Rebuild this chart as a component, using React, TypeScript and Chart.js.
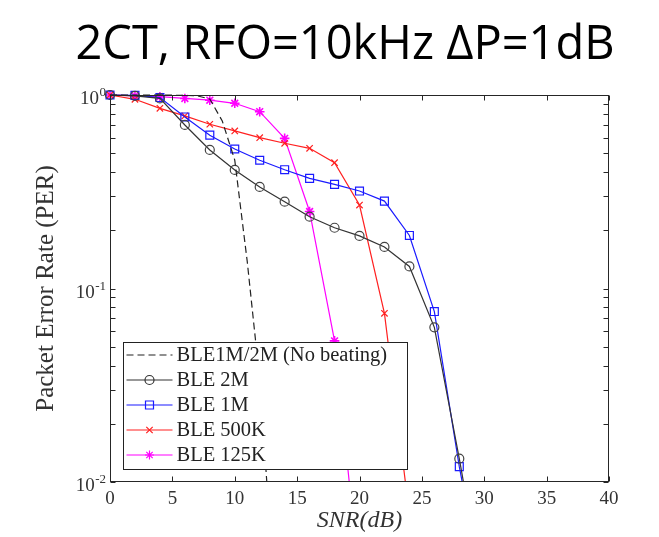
import React, { useEffect, useRef } from 'react';
import { Chart, registerables } from 'chart.js';

Chart.register(...registerables);

// ---- text ----
const TITLE = '2CT, RFO=10kHz \u0394P=1dB';
const X_TITLE = 'SNR(dB)';
const Y_TITLE = 'Packet Error Rate (PER)';

// ---- ticks ----
const xTickValues = [0, 5, 10, 15, 20, 25, 30, 35, 40];
const yTickValues = [1, 0.1, 0.01];
const yTickBase = ['10', '10', '10'];
const yTickExponent = ['0', '-1', '-2'];

// ---- series ----
const snrNoBeating = [0, 2, 4, 6, 7, 8, 9, 10, 11, 12, 13];
const perNoBeating = [1, 1, 1, 0.995, 0.99, 0.953, 0.734, 0.461, 0.138, 0.0337, 0.004];

const snr2M = [0, 2, 4, 6, 8, 10, 12, 14, 16, 18, 20, 22, 24, 26, 28, 30];
const per2M = [1, 0.99, 0.96, 0.7, 0.52, 0.41, 0.335, 0.281, 0.235, 0.206, 0.187, 0.164, 0.13, 0.063, 0.0132, 0.0025];

const snr1M = [0, 2, 4, 6, 8, 10, 12, 14, 16, 18, 20, 22, 24, 26, 28, 30];
const per1M = [1, 0.995, 0.97, 0.77, 0.62, 0.526, 0.46, 0.411, 0.371, 0.345, 0.319, 0.283, 0.188, 0.076, 0.012, 0.0025];

const snr500K = [0, 2, 4, 6, 8, 10, 12, 14, 16, 18, 20, 22, 24];
const per500K = [1, 0.95, 0.853, 0.78, 0.706, 0.652, 0.602, 0.563, 0.53, 0.447, 0.27, 0.0744, 0.0068];

const snr125K = [0, 2, 4, 6, 8, 10, 12, 14, 16, 18, 20];
const per125K = [1, 0.99, 0.98, 0.96, 0.94, 0.906, 0.82, 0.597, 0.25, 0.0536, 0.0031];

const seriesLabels = ['BLE1M/2M (No beating)', 'BLE 2M', 'BLE 1M', 'BLE 500K', 'BLE 125K'];

const toPoints = (xs: number[], ys: number[]) => xs.map((x, i) => ({ x, y: ys[i] }));

const SERIF = '"Liberation Serif", "Times New Roman", serif';
const TEXT_COLOR = '#333333';

function drawMarker(ctx: CanvasRenderingContext2D, style: string, x: number, y: number, color: string) {
  ctx.save();
  ctx.strokeStyle = color;
  ctx.lineWidth = 1.2;
  ctx.setLineDash([]);
  ctx.beginPath();
  if (style === 'circle') {
    ctx.arc(x, y, 4.5, 0, Math.PI * 2);
  } else if (style === 'rect') {
    ctx.rect(x - 4, y - 4, 8, 8);
  } else if (style === 'crossRot') {
    ctx.moveTo(x - 3.2, y - 3.2); ctx.lineTo(x + 3.2, y + 3.2);
    ctx.moveTo(x - 3.2, y + 3.2); ctx.lineTo(x + 3.2, y - 3.2);
  } else if (style === 'star') {
    ctx.moveTo(x - 4.5, y); ctx.lineTo(x + 4.5, y);
    ctx.moveTo(x, y - 4.5); ctx.lineTo(x, y + 4.5);
    ctx.moveTo(x - 3.2, y - 3.2); ctx.lineTo(x + 3.2, y + 3.2);
    ctx.moveTo(x - 3.2, y + 3.2); ctx.lineTo(x + 3.2, y - 3.2);
  }
  ctx.stroke();
  ctx.restore();
}

const framePlugin = {
  id: 'matlabFrame',
  afterDatasetsDraw(chart: any) {
    const { ctx, chartArea: a, scales } = chart;
    const xs = scales.x;
    const ys = scales.y;

    // legend box inside the axes (bottom-left)
    const lx = a.left + 12.5;
    const lh = 127;
    const lw = 284;
    const ly = a.bottom - 13 - lh;
    ctx.save();
    ctx.fillStyle = '#ffffff';
    ctx.fillRect(lx, ly, lw, lh);
    ctx.strokeStyle = '#222222';
    ctx.lineWidth = 1;
    ctx.strokeRect(Math.round(lx) + 0.5, Math.round(ly) + 0.5, lw, lh);
    chart.data.datasets.forEach((ds: any, i: number) => {
      const ry = ly + 13 + i * 25;
      ctx.save();
      ctx.strokeStyle = ds.borderColor;
      ctx.lineWidth = ds.borderWidth;
      ctx.setLineDash(ds.borderDash || []);
      ctx.beginPath();
      ctx.moveTo(lx + 4, ry);
      ctx.lineTo(lx + 50, ry);
      ctx.stroke();
      ctx.restore();
      if (ds.pointRadius > 0) drawMarker(ctx, ds.pointStyle, lx + 27, ry, ds.borderColor);
      ctx.fillStyle = '#222222';
      ctx.font = `20.5px ${SERIF}`;
      ctx.textAlign = 'left';
      ctx.textBaseline = 'middle';
      ctx.fillText(ds.label, lx + 54, ry + 1);
    });
    ctx.restore();

    // axes box and inward ticks
    ctx.save();
    ctx.strokeStyle = '#262626';
    ctx.lineWidth = 1;
    const L = Math.round(a.left) + 0.5;
    const R = Math.round(a.right) - 0.5;
    const T = Math.round(a.top) + 0.5;
    const B = Math.round(a.bottom) - 0.5;
    ctx.strokeRect(L, T, R - L, B - T);
    ctx.beginPath();
    const tl = 5;
    xTickValues.forEach((v) => {
      const px = Math.round(xs.getPixelForValue(v)) + 0.5;
      ctx.moveTo(px, B); ctx.lineTo(px, B - tl);
      ctx.moveTo(px, T); ctx.lineTo(px, T + tl);
    });
    for (let e = -2; e <= 0; e++) {
      for (let k = 1; k <= 9; k++) {
        const v = k * Math.pow(10, e);
        if (v < ys.min * 0.999 || v > ys.max * 1.001) continue;
        const py = Math.round(ys.getPixelForValue(v)) + 0.5;
        ctx.moveTo(L, py); ctx.lineTo(L + tl, py);
        ctx.moveTo(R, py); ctx.lineTo(R - tl, py);
      }
    }
    ctx.stroke();
    ctx.restore();

    // y tick labels: 10 with raised exponent
    ctx.save();
    ctx.fillStyle = TEXT_COLOR;
    ctx.textBaseline = 'alphabetic';
    yTickValues.forEach((v, i) => {
      const py = ys.getPixelForValue(v);
      const right = a.left - 4;
      ctx.font = `13px ${SERIF}`;
      ctx.textAlign = 'right';
      ctx.fillText(yTickExponent[i], right, py + 1);
      const ew = ctx.measureText(yTickExponent[i]).width;
      ctx.font = `19px ${SERIF}`;
      ctx.fillText(yTickBase[i], right - ew - 0.5, py + 9);
    });
    ctx.restore();
  },
  afterDraw(chart: any) {
    const { ctx } = chart;
    ctx.save();
    ctx.fillStyle = '#000000';
    ctx.font = '47px "Open Sans", "Noto Sans", sans-serif';
    ctx.textAlign = 'center';
    ctx.textBaseline = 'alphabetic';
    ctx.fillText(TITLE, 345, 59);
    ctx.restore();
  },
};

export default function App() {
  const ref = useRef<HTMLCanvasElement | null>(null);

  useEffect(() => {
    if (!ref.current) return;
    const common = {
      borderWidth: 1.2,
      pointBackgroundColor: 'rgba(0,0,0,0)',
      pointBorderWidth: 1.2,
      tension: 0,
      clip: { left: 8, top: 8, right: 0, bottom: 0 },
    };
    const chart = new Chart(ref.current, {
      type: 'line',
      data: {
        datasets: [
          {
            ...common,
            label: seriesLabels[0],
            data: toPoints(snrNoBeating, perNoBeating),
            borderColor: '#222222',
            borderDash: [7, 4],
            pointRadius: 0,
          },
          {
            ...common,
            label: seriesLabels[1],
            data: toPoints(snr2M, per2M),
            borderColor: '#333333',
            pointStyle: 'circle',
            pointRadius: 4.5,
            pointBorderColor: '#444444',
          },
          {
            ...common,
            label: seriesLabels[2],
            data: toPoints(snr1M, per1M),
            borderColor: '#1a1aff',
            pointStyle: 'rect',
            pointRadius: 5.6,
            pointBorderColor: '#1a1aff',
          },
          {
            ...common,
            label: seriesLabels[3],
            data: toPoints(snr500K, per500K),
            borderColor: '#ff2020',
            pointStyle: 'crossRot',
            pointRadius: 4.5,
            pointBorderColor: '#ff2020',
          },
          {
            ...common,
            label: seriesLabels[4],
            data: toPoints(snr125K, per125K),
            borderColor: '#ff00ff',
            pointStyle: 'star',
            pointRadius: 4.8,
            pointBorderWidth: 1.6,
            pointBorderColor: '#ff00ff',
          },
        ] as any,
      },
      options: {
        responsive: false,
        animation: false,
        devicePixelRatio: 1,
        layout: { padding: { top: 95, right: 50, left: 0, bottom: 0 } },
        plugins: {
          legend: { display: false },
          title: { display: false },
          tooltip: { enabled: false },
        },
        scales: {
          x: {
            type: 'linear',
            min: 0,
            max: 40,
            grid: { display: false, drawTicks: false },
            border: { display: false },
            ticks: {
              stepSize: 5,
              autoSkip: false,
              maxRotation: 0,
              padding: 6,
              color: TEXT_COLOR,
              font: { family: SERIF, size: 19 },
            },
            title: {
              display: true,
              text: X_TITLE,
              color: TEXT_COLOR,
              font: { family: SERIF, size: 24, style: 'italic' },
              padding: { top: 0, bottom: 2 },
            },
            afterFit: (s: any) => { s.height = 55; },
          },
          y: {
            type: 'logarithmic',
            min: 0.01,
            max: 1,
            grid: { display: false, drawTicks: false },
            border: { display: false },
            ticks: { display: false },
            title: {
              display: true,
              text: Y_TITLE,
              color: TEXT_COLOR,
              font: { family: SERIF, size: 25 },
              padding: { top: 31, bottom: 0 },
            },
            afterFit: (s: any) => { s.width = 110; },
          },
        },
      } as any,
      plugins: [framePlugin],
    });
    return () => chart.destroy();
  }, []);

  return (
    <div style={{ position: 'fixed', left: 0, top: 0, width: 659, height: 537, background: '#ffffff' }}>
      <canvas ref={ref} width={659} height={537} style={{ display: 'block', width: 659, height: 537 }} />
    </div>
  );
}
